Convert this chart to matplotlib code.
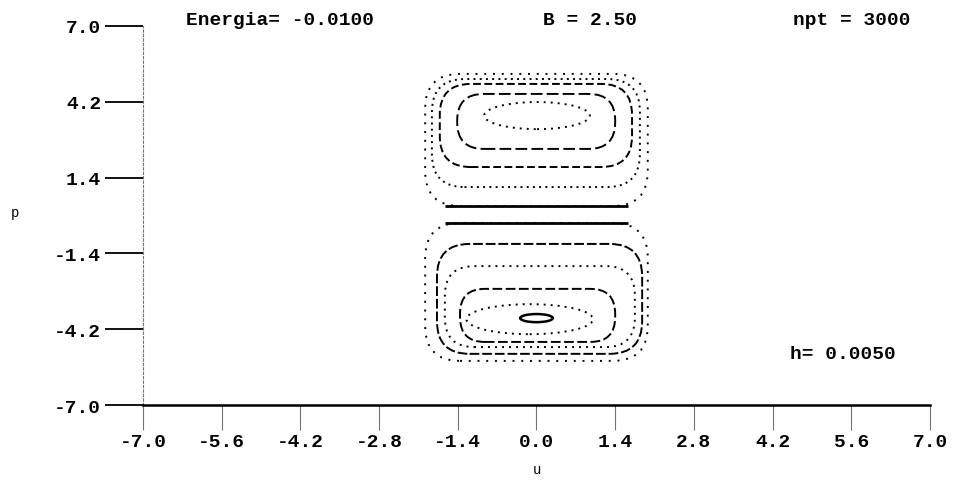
import matplotlib
matplotlib.use("Agg")
import matplotlib.pyplot as plt
from matplotlib.patches import FancyBboxPatch, Ellipse

# axis ticks
x_ticks = [-7.0, -5.6, -4.2, -2.8, -1.4, 0.0, 1.4, 2.8, 4.2, 5.6, 7.0]
y_ticks = [-7.0, -4.2, -1.4, 1.4, 4.2, 7.0]

# run parameters shown on the plot
energia = -0.0100
b_field = 2.50
npt = 3000
h_step = 0.0050

# closed orbits of the section, as boxes (u_lo, u_hi, p_lo, p_hi)
box_u_lo = [-1.98, -1.86, -1.72, -1.41, -1.98, -1.77, -1.63, -1.36]
box_u_hi = [1.98, 1.84, 1.70, 1.40, 1.98, 1.88, 1.75, 1.40]
box_p_lo = [0.35, 1.05, 1.79, 2.46, -5.37, -5.11, -4.86, -4.67]
box_p_hi = [5.23, 5.04, 4.86, 4.49, -0.28, -1.05, -1.87, -2.71]

# innermost orbits around the two fixed points
ell_u = [0.01, -0.12, 0.0]
ell_p = [3.69, -3.83, -3.79]
ell_w = [1.88, 2.25, 0.58]
ell_h = [1.00, 1.11, 0.30]

# drawing styles
box_round = [0.62, 0.58, 0.55, 0.47, 0.62, 0.58, 0.52, 0.44]
box_style = [(0, (1, 3.5)), (0, (1, 2.2)), (0, (4, 1.8)), (0, (6, 2.2)),
             (0, (1, 3.5)), (0, (5, 1.5)), (0, (1, 2.6)), (0, (5, 1.8))]
ell_style = [(0, (1, 2.6)), (0, (1, 2.6)), "-"]

mono = "Liberation Mono"

fig = plt.figure(figsize=(9.55, 4.81), dpi=100)
ax = fig.add_axes([0.1497, 0.1559, 0.8241, 0.788])
ax.set_xlim(-7, 7)
ax.set_ylim(-7, 7)

# pixels per unit differ between u and p; keep the rounded corners round
corner_aspect = (0.8241 * 9.55) / (0.788 * 4.81)

for i in range(len(box_u_lo)):
    w = box_u_hi[i] - box_u_lo[i]
    hgt = box_p_hi[i] - box_p_lo[i]
    patch = FancyBboxPatch((box_u_lo[i], box_p_lo[i]), w, hgt,
                           boxstyle=f"round,pad=0,rounding_size={box_round[i]}",
                           mutation_aspect=corner_aspect,
                           fill=False, ec="black", lw=1.4, ls=box_style[i])
    ax.add_patch(patch)

# the outermost orbits pile up into a solid edge near p = 0
ax.hlines(box_p_lo[0], box_u_lo[0] + 0.35, box_u_hi[0] - 0.35, color="black", lw=2.0)
ax.hlines(box_p_hi[4], box_u_lo[4] + 0.35, box_u_hi[4] - 0.35, color="black", lw=2.0)

for i in range(len(ell_u)):
    ax.add_patch(Ellipse((ell_u[i], ell_p[i]), ell_w[i], ell_h[i], fill=False,
                         ec="black", lw=1.8 if ell_style[i] == "-" else 1.4,
                         ls=ell_style[i]))

ax.set_xticks(x_ticks)
ax.set_yticks(y_ticks)
ax.set_xticklabels([f"{v:.1f}" for v in x_ticks], family=mono, weight="bold", fontsize=14)
ax.set_yticklabels([f"{v:.1f}" for v in y_ticks], family=mono, weight="bold", fontsize=14)
ax.tick_params(axis="y", direction="out", length=27.5, width=1.3, color="black", pad=2.5)
ax.tick_params(axis="x", direction="out", length=18, width=0.8, color="0.45", pad=2.5)

for s in ("top", "right"):
    ax.spines[s].set_visible(False)
ax.spines["left"].set_linestyle((0, (2, 2)))
ax.spines["left"].set_color("0.45")
ax.spines["left"].set_linewidth(0.8)
ax.spines["bottom"].set_linewidth(1.8)

fig.text(0.293, 0.958, f"Energia= {energia:.4f}", family=mono, weight="bold",
         fontsize=14, ha="center", va="center")
fig.text(0.618, 0.958, f"B = {b_field:.2f}", family=mono, weight="bold",
         fontsize=14, ha="center", va="center")
fig.text(0.892, 0.958, f"npt = {npt}", family=mono, weight="bold",
         fontsize=14, ha="center", va="center")
fig.text(0.883, 0.262, f"h= {h_step:.4f}", family=mono, weight="bold",
         fontsize=14, ha="center", va="center")
fig.text(0.016, 0.557, "p", family=mono, fontsize=10, ha="center", va="center")
fig.text(0.562, 0.023, "u", family=mono, fontsize=10, ha="center", va="center")

fig.savefig("out.png", dpi=100)
